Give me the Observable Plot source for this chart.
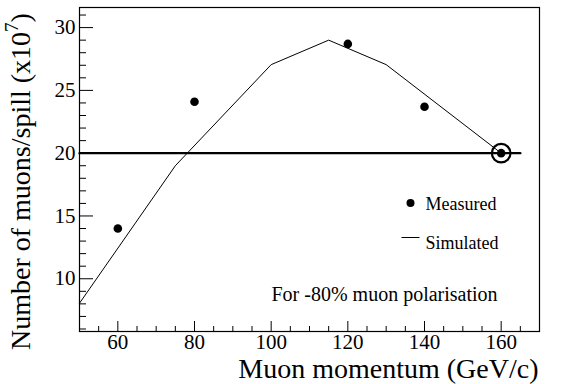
<!DOCTYPE html>
<html>
<head>
<meta charset="utf-8">
<script src="https://cdn.jsdelivr.net/npm/d3@7"></script>
<script src="https://cdn.jsdelivr.net/npm/@observablehq/plot@0.6"></script>
<style>
  html, body { margin: 0; padding: 0; background: #fff; }
  svg { display: block; }
</style>
</head>
<body>
<div id="chart"></div>
<script>
// Measured muon rates (x10^7 per spill)
const measuredMomentum = [60, 80, 120, 140, 160];
const measuredRate = [14.0, 24.1, 28.7, 23.7, 20.0];

// Simulated curve
const simMomentum = [50, 75, 100, 115, 130, 160];
const simRate = [8.05, 19.0, 27.05, 29.0, 27.05, 20.0];

// Reference level and highlighted point
const referenceRate = 20;
const referenceSpan = [50, 165];
const highlightMomentum = 160;
const highlightRate = 20;

// Axis ticks
const xMajorTicks = [60, 80, 100, 120, 140, 160];
const xMinorTicks = [55, 65, 70, 75, 85, 90, 95, 105, 110, 115, 125, 130, 135, 145, 150, 155, 165];
const yMajorTicks = [10, 15, 20, 25, 30];
const yMinorTicks = [6, 7, 8, 9, 11, 12, 13, 14, 16, 17, 18, 19, 21, 22, 23, 24, 26, 27, 28, 29, 31];

const xLabel = "Muon momentum (GeV/c)";
const legendMeasured = "Measured";
const legendSimulated = "Simulated";
const note = "For -80% muon polarisation";

const measured = measuredMomentum.map((x, i) => ({x, y: measuredRate[i]}));
const simulated = simMomentum.map((x, i) => ({x, y: simRate[i]}));
const refLine = referenceSpan.map(x => ({x, y: referenceRate}));

const font = "'Liberation Serif', 'Times New Roman', serif";

const chart = Plot.plot({
  width: 567,
  height: 384,
  marginLeft: 79,
  marginRight: 28,
  marginTop: 7,
  marginBottom: 53,
  style: {fontFamily: font, background: "#fff", color: "#000"},
  x: {domain: [50, 170], label: null},
  y: {domain: [5.8, 31.6], label: null},
  marks: [
    Plot.frame({stroke: "#000", strokeWidth: 1.2}),
    // inward ticks
    Plot.axisX(xMajorTicks, {tickSize: -10, text: null, stroke: "#000"}),
    Plot.axisX(xMinorTicks, {tickSize: -5, text: null, stroke: "#000"}),
    Plot.axisY(yMajorTicks, {tickSize: -14, text: null, stroke: "#000"}),
    Plot.axisY(yMinorTicks, {tickSize: -7, text: null, stroke: "#000"}),
    // tick labels
    Plot.axisX(xMajorTicks, {tickSize: 0, tickPadding: 3, fontSize: 21, label: null, fill: "#000"}),
    Plot.axisY(yMajorTicks, {tickSize: 0, tickPadding: 4, fontSize: 21, label: null, fill: "#000"}),
    // data
    Plot.line(simulated, {x: "x", y: "y", stroke: "#000", strokeWidth: 1}),
    Plot.line(refLine, {x: "x", y: "y", stroke: "#000", strokeWidth: 2.4}),
    Plot.dot(measured, {x: "x", y: "y", r: 4.3, fill: "#000", stroke: null}),
    Plot.dot([{x: highlightMomentum, y: highlightRate}], {x: "x", y: "y", r: 9.3, fill: "none", stroke: "#000", strokeWidth: 2.2}),
    // legend
    Plot.dot([legendMeasured], {frameAnchor: "top-left", dx: 331, dy: 195.5, r: 4, fill: "#000", stroke: null}),
    Plot.text([legendMeasured], {frameAnchor: "top-left", dx: 346, dy: 202, textAnchor: "start", lineAnchor: "bottom", fontSize: 18, fill: "#000"}),
    Plot.text([legendSimulated], {frameAnchor: "top-left", dx: 346, dy: 241, textAnchor: "start", lineAnchor: "bottom", fontSize: 18, fill: "#000"}),
    Plot.text([note], {frameAnchor: "top-left", dx: 192, dy: 293, textAnchor: "start", lineAnchor: "bottom", fontSize: 20, fill: "#000"}),
    Plot.text([xLabel], {frameAnchor: "bottom-right", dx: -1, dy: 46, textAnchor: "end", lineAnchor: "bottom", fontSize: 28, fill: "#000"})
  ]
});

const svg = d3.select(chart);
// legend line sample for "Simulated"
svg.append("line")
  .attr("x1", 401.5).attr("x2", 419.5)
  .attr("y1", 237.5).attr("y2", 237.5)
  .attr("stroke", "#000").attr("stroke-width", 1);

// y-axis label with superscript
const yl = svg.append("text")
  .attr("transform", "translate(30,350) rotate(-90)")
  .attr("text-anchor", "start")
  .attr("font-family", font)
  .attr("font-size", 28)
  .attr("fill", "#000");
yl.append("tspan").text("Number of muons/spill (x10");
yl.append("tspan").attr("font-size", 19).attr("dy", -12).text("7");
yl.append("tspan").attr("dy", 12).text(")");

document.getElementById("chart").appendChild(chart);
</script>
</body>
</html>
